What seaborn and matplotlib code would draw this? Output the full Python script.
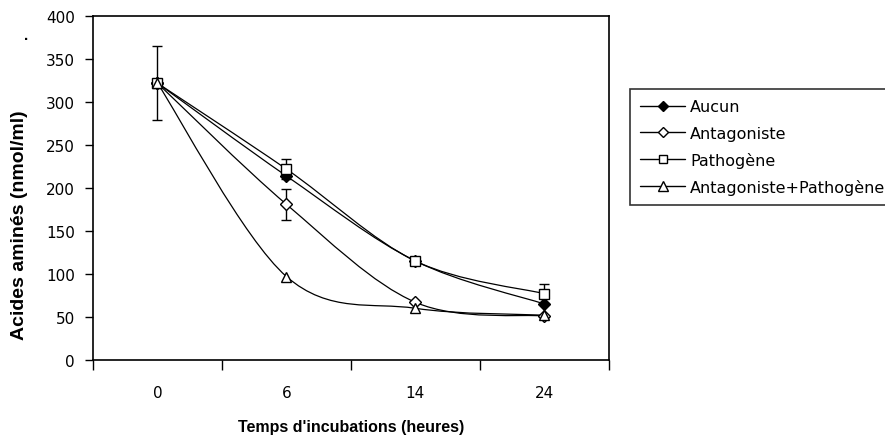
#%% Acides aminés vs temps d'incubation
import numpy as np
import pandas as pd
import matplotlib
matplotlib.use("Agg")
import matplotlib.pyplot as plt
from matplotlib.path import Path
from matplotlib.patches import PathPatch
from matplotlib.lines import Line2D
import seaborn as sns

#%% data
temps = ["0", "6", "14", "24"]
aucun = [322, 214, 115, 65]
antagoniste = [322, 181, 67, 51]
pathogene = [322, 222, 115, 77]
antag_patho = [322, 97, 60, 52]

err_aucun = [43, 0, 0, 0]
err_antagoniste = [0, 18, 0, 0]
err_pathogene = [0, 12, 0, 11]
err_antag_patho = [0, 0, 0, 0]

series = ["Aucun", "Antagoniste", "Pathogène", "Antagoniste+Pathogène"]

#%%
def smooth_path(x, y):
    """Excel-like smoothed line: cubic bezier through the points."""
    x = np.asarray(x, float)
    y = np.asarray(y, float)
    n = len(x)
    verts = [(x[0], y[0])]
    codes = [Path.MOVETO]
    for i in range(n - 1):
        x0, y0 = (x[i - 1], y[i - 1]) if i > 0 else (x[i], y[i])
        x3, y3 = (x[i + 2], y[i + 2]) if i + 2 < n else (x[i + 1], y[i + 1])
        c1 = (x[i] + (x[i + 1] - x0) / 6, y[i] + (y[i + 1] - y0) / 6)
        c2 = (x[i + 1] - (x3 - x[i]) / 6, y[i + 1] - (y3 - y[i]) / 6)
        verts += [c1, c2, (x[i + 1], y[i + 1])]
        codes += [Path.CURVE4] * 3
    return Path(verts, codes)


def main():
    sns.set_style("white")
    plt.rcParams["font.family"] = ["Liberation Sans", "DejaVu Sans"]
    for k in ["text.color", "axes.labelcolor", "xtick.color", "ytick.color",
              "axes.edgecolor"]:
        plt.rcParams[k] = "black"

    pos = np.arange(len(temps)) + 0.5
    df = pd.DataFrame({
        "pos": np.tile(pos, 4),
        "val": aucun + antagoniste + pathogene + antag_patho,
        "err": err_aucun + err_antagoniste + err_pathogene + err_antag_patho,
        "serie": np.repeat(series, len(temps)),
    })

    styles = {
        "Aucun": dict(marker="D", mfc="black", ms=6),
        "Antagoniste": dict(marker="D", mfc="white", ms=6),
        "Pathogène": dict(marker="s", mfc="white", ms=7),
        "Antagoniste+Pathogène": dict(marker="^", mfc="white", ms=7.5),
    }

    fig = plt.figure(figsize=(8.85, 4.39), dpi=100)
    ax = fig.add_axes([0.105, 0.178, 0.583, 0.783])

    handles = []
    for s in series:
        d = df[df["serie"] == s]
        st = styles[s]
        ax.add_patch(PathPatch(smooth_path(d["pos"], d["val"]), fill=False,
                               edgecolor="black", lw=0.9, zorder=2))
        e = d[d["err"] > 0]
        if len(e):
            ax.errorbar(e["pos"], e["val"], yerr=e["err"], fmt="none",
                        ecolor="black", elinewidth=1, capsize=3.5, capthick=1,
                        zorder=3)
        sns.lineplot(data=d, x="pos", y="val", ax=ax, linestyle="none",
                     marker=st["marker"], markersize=st["ms"],
                     markerfacecolor=st["mfc"], markeredgecolor="black",
                     markeredgewidth=1, color="black", zorder=4)
        handles.append(Line2D([], [], color="black", lw=1, marker=st["marker"],
                              markersize=st["ms"] - 1, markerfacecolor=st["mfc"],
                              markeredgecolor="black", label=s))

    ax.set_xlim(0, 4)
    ax.set_ylim(0, 400)
    ax.set_xticks(range(5))
    ax.set_xticklabels([])
    ax.set_xticks(pos, minor=True)
    ax.set_xticklabels(temps, minor=True, family="DejaVu Sans")
    ax.set_yticks(range(0, 401, 50))
    ax.set_yticklabels([str(v) for v in range(0, 401, 50)], family="DejaVu Sans")
    ax.tick_params(axis="x", which="major", bottom=True, direction="out",
                   length=7, width=1, color="black")
    ax.tick_params(axis="x", which="minor", bottom=True, length=0, pad=18,
                   labelsize=11)
    ax.tick_params(axis="y", left=True, direction="out", length=6, width=1,
                   color="black", labelsize=11, pad=7)
    for sp in ax.spines.values():
        sp.set_color("black")
        sp.set_linewidth(1.2)

    ax.set_xlabel("Temps d'incubations (heures)", fontweight="bold",
                  fontsize=11.5)
    ax.xaxis.set_label_coords(0.5, -0.172)
    ax.set_ylabel("Acides aminés (nmol/ml)", fontweight="bold", fontsize=14)
    ax.yaxis.set_label_coords(-0.126, 0.395)
    fig.text(24 / 885, 1 - 40 / 439, ".", fontsize=11, fontweight="bold")

    leg = fig.legend(handles=handles, loc="upper left",
                     bbox_to_anchor=(630 / 885, 1 - 90 / 439),
                     frameon=True, fancybox=False,
                     prop={"family": "DejaVu Sans", "size": 11.5},
                     handlelength=2.8, handletextpad=0.3, labelspacing=0.7,
                     borderpad=0.65, borderaxespad=0)
    leg.get_frame().set_edgecolor("black")
    leg.get_frame().set_linewidth(1.2)

    fig.savefig("out.png", dpi=100)


#%%
if __name__ == "__main__":
    main()
